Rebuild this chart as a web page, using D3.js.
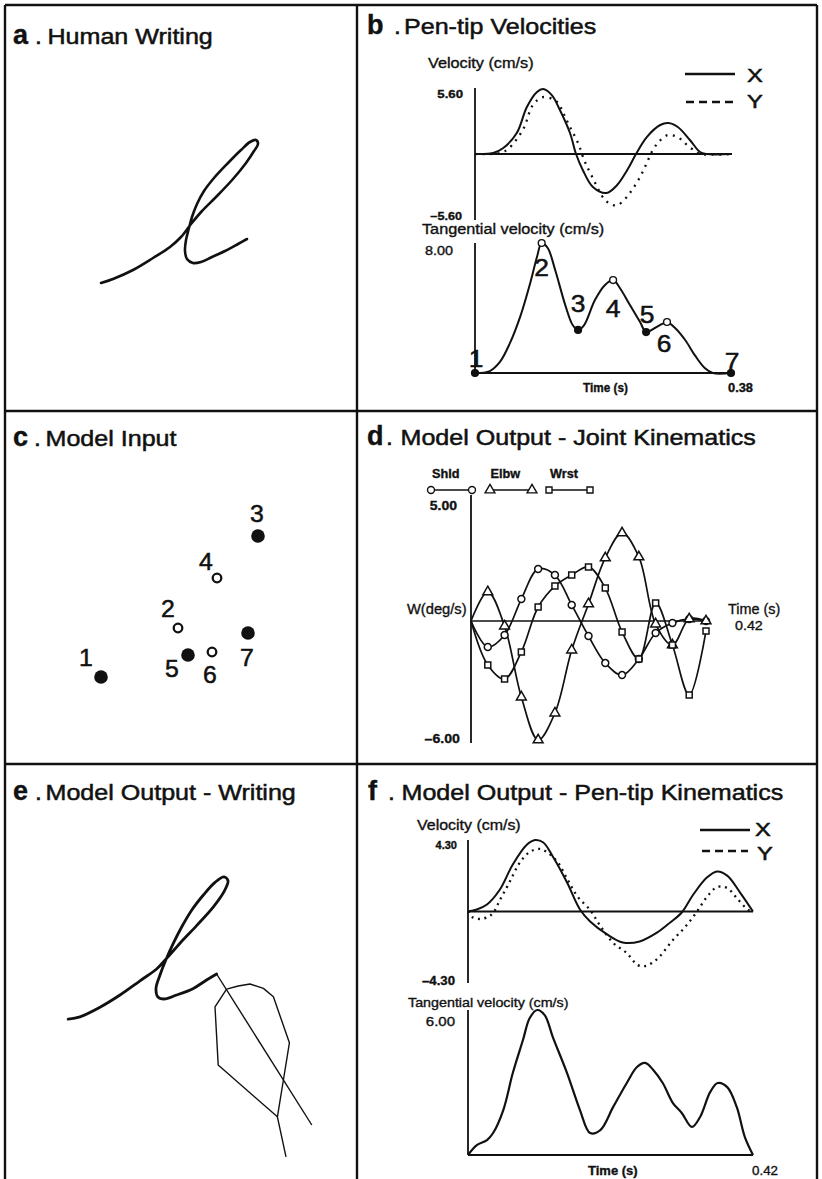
<!DOCTYPE html>
<html>
<head>
<meta charset="utf-8">
<script src="https://cdn.jsdelivr.net/npm/d3@7"></script>
<style>
  body { margin: 0; background: #fff; }
  svg { display: block; }
  text { font-family: "Liberation Sans", Arial, Helvetica, sans-serif; }
</style>
</head>
<body>
<svg id="fig" width="822" height="1179"></svg>
<script>
// ---------------- data ----------------
// Panel a: recorded pen trajectory (cm)
const humanStroke = [
  [0.025,0.425],[0.325,0.525],[0.825,0.75],[1.325,1.05],[1.75,1.325],[2.025,1.575],
  [2.275,1.9],[2.55,2.225],[2.925,2.6],[3.325,3.025],[3.65,3.425],[3.85,3.725],
  [3.95,3.9],[3.9,4.0],[3.75,3.95],[3.525,3.75],[3.2,3.425],[2.85,3.05],[2.6,2.725],
  [2.425,2.4],[2.3,2.075],[2.225,1.8],[2.15,1.5],[2.125,1.225],[2.175,1.025],
  [2.325,0.925],[2.525,0.95],[2.8,1.075],[3.125,1.225],[3.45,1.4],[3.675,1.525]
];

// Panel b: pen-tip velocities, [time s, velocity cm/s]
const bVelX = [
  [0,0],[0.027,0.09],[0.042,0.51],[0.062,1.78],[0.077,3.99],[0.092,5.26],[0.101,5.51],
  [0.114,5.00],[0.126,3.73],[0.141,1.78],[0.150,0],[0.160,-1.36],[0.175,-2.80],
  [0.195,-3.31],[0.211,-2.63],[0.226,-1.36],[0.239,0],[0.255,1.44],[0.275,2.46],
  [0.287,2.63],[0.301,2.29],[0.319,1.19],[0.334,0.17],[0.344,0],[0.38,0]
];
const bVelY = [
  [0,0],[0.037,0.08],[0.049,0.42],[0.071,2.04],[0.086,4.16],[0.101,4.83],[0.122,4.41],
  [0.131,3.48],[0.141,2.29],[0.153,0.93],[0.162,-0.51],[0.174,-1.95],[0.193,-3.90],
  [0.205,-4.33],[0.212,-4.33],[0.224,-3.73],[0.234,-2.97],[0.245,-1.95],[0.255,-0.76],
  [0.264,0.34],[0.274,1.10],[0.286,1.61],[0.297,1.53],[0.307,1.19],[0.316,0.68],
  [0.327,0.25],[0.334,0],[0.38,0]
];
const bTang = [
  [0,0],[0.022,0.12],[0.037,0.68],[0.052,1.85],[0.067,3.45],[0.082,5.54],[0.092,7.14],
  [0.099,8.00],[0.108,7.69],[0.119,6.34],[0.134,4.18],[0.145,2.95],[0.153,2.65],
  [0.162,2.95],[0.178,4.49],[0.193,5.42],[0.205,5.72],[0.215,5.23],[0.230,4.18],
  [0.245,3.14],[0.254,2.52],[0.267,2.77],[0.278,3.02],[0.285,3.14],[0.297,2.77],
  [0.312,2.03],[0.327,1.05],[0.341,0.31],[0.353,0],[0.38,0]
];
// segmentation points on the tangential velocity profile
const segNames  = ["1","2","3","4","5","6","7"];
const segTimes  = [0, 0.099, 0.153, 0.205, 0.254, 0.285, 0.38];
const segValues = [0, 8.00, 2.65, 5.72, 2.52, 3.14, 0];
const segFilled = [true, false, true, false, true, false, true];

// Panel c: model input targets (cm)
const targetX = [0.025, 1.95, 3.95, 2.925, 2.2, 2.8, 3.7];
const targetY = [0.4, 1.625, 3.925, 2.875, 0.95, 1.025, 1.5];

// Panel d: joint angular velocities (deg/s)
const dTimes = [0,0.03,0.06,0.09,0.12,0.15,0.18,0.21,0.24,0.27,0.30,0.33,0.36,0.39,0.42];
const dShld  = [0,-1.28,-0.69,1.08,2.56,2.26,0.79,-0.74,-2.07,-2.66,-1.87,-0.59,-0.10,0.10,0];
const dElbw  = [0,1.43,-0.25,-3.74,-5.85,-4.53,-1.43,0.84,3.10,4.33,3.15,-0.15,-1.18,0.10,0];
const dWrst  = [0,-2.16,-2.85,-1.52,0.69,1.72,2.26,2.66,1.62,-0.54,-1.87,0.89,-1.18,-3.64,-0.49];
const jointNames = ["Shld","Elbw","Wrst"];

// Panel e: model output trajectory (cm)
const modelStroke = [
  [-0.02,0.42],[0.275,0.48],[0.775,0.72],[1.275,1.025],[1.775,1.38],[2.19,1.675],
  [2.44,1.94],[2.775,2.32],[3.19,2.76],[3.61,3.23],[3.875,3.61],[3.975,3.88],
  [3.875,3.98],[3.65,3.84],[3.36,3.525],[3.07,3.15],[2.82,2.73],[2.61,2.32],
  [2.42,1.9],[2.275,1.525],[2.175,1.19],[2.22,0.98],[2.375,0.925],[2.69,1.025],
  [3.11,1.19],[3.44,1.4],[3.69,1.55]
];
const modelTailA = [[3.69,1.55],[6.07,-2.225]];
const modelTailB = [[3.94,1.17],[4.23,1.25],[4.525,1.3],[4.86,1.19],[5.11,0.98],
  [5.51,-0.17],[5.36,-1.1],[5.21,-2.02],[5.425,-3.02]];
const modelTailC = [[3.94,1.17],[3.65,0.73],[3.73,-0.725],[5.21,-2.02]];

// Panel f: model pen-tip kinematics, [time s, velocity cm/s]
const fVelX = [
  [0,0],[0.013,0.12],[0.028,0.42],[0.047,1.32],[0.066,2.83],[0.087,4.03],[0.099,4.30],
  [0.111,4.15],[0.125,3.31],[0.146,1.74],[0.165,0.12],[0.180,-0.60],[0.205,-1.38],
  [0.228,-1.86],[0.253,-1.80],[0.279,-1.26],[0.298,-0.66],[0.315,-0.06],[0.332,1.02],
  [0.352,2.04],[0.367,2.41],[0.382,2.16],[0.401,1.14],[0.42,0]
];
const fVelY = [
  [0,0],[0.006,-0.33],[0.018,-0.45],[0.029,-0.33],[0.037,-0.09],[0.047,0.69],[0.059,1.59],
  [0.077,2.98],[0.091,3.58],[0.106,3.76],[0.118,3.52],[0.133,2.92],[0.147,1.89],
  [0.162,0.87],[0.180,0.09],[0.194,-0.81],[0.214,-1.89],[0.234,-2.50],[0.250,-3.22],
  [0.261,-3.28],[0.271,-3.10],[0.283,-2.68],[0.302,-1.71],[0.320,-0.93],[0.337,-0.03],
  [0.352,0.87],[0.367,1.47],[0.382,1.41],[0.396,0.81],[0.413,0.09],[0.42,0]
];
const fTang = [
  [0,0],[0.013,0.41],[0.028,0.62],[0.037,0.91],[0.052,1.86],[0.066,3.39],[0.081,4.76],
  [0.091,5.67],[0.102,6.00],[0.113,5.79],[0.125,4.88],[0.146,3.39],[0.165,1.86],
  [0.180,0.91],[0.195,1.03],[0.214,1.99],[0.234,2.98],[0.249,3.64],[0.261,3.81],
  [0.273,3.52],[0.287,2.98],[0.302,2.15],[0.315,1.74],[0.330,1.16],[0.342,1.57],
  [0.357,2.61],[0.368,2.98],[0.382,2.81],[0.396,1.99],[0.408,0.74],[0.42,0]
];

// ---------------- drawing ----------------
const svg = d3.select("#fig");
svg.append("rect").attr("width", 822).attr("height", 1179).attr("fill", "#fff");
const INK = "#111";

// text with a horizontal stretch and a hairline outline for a heavier print look
function txt(g, x, y, s, o = {}) {
  return g.append("text")
    .attr("transform", `translate(${x},${y}) scale(${o.sx ?? 1},1)`)
    .attr("text-anchor", o.anchor || "start")
    .attr("font-size", o.size || 14)
    .attr("font-weight", o.weight || "normal")
    .attr("fill", INK)
    .attr("stroke", INK).attr("stroke-width", o.sw ?? 0.35)
    .text(s);
}
function seg(g, x1, y1, x2, y2, w = 1.8) {
  g.append("line").attr("x1", x1).attr("y1", y1).attr("x2", x2).attr("y2", y2)
    .attr("stroke", INK).attr("stroke-width", w);
}

// panel frame
const frame = svg.append("g");
[[5,5,817,5],[5,5,5,1179],[817,5,817,1179],[357,5,357,1179],[5,411,817,411],[5,764,817,764]]
  .forEach(d => seg(frame, d[0], d[1], d[2], d[3], 2.4));

// panel titles
const panelLetters = ["a","b","c","d","e","f"];
const panelNames = ["Human Writing","Pen-tip Velocities","Model Input",
  "Model Output - Joint Kinematics","Model Output - Writing","Model Output - Pen-tip Kinematics"];
const titlePos = [
  {x:13, dot:35, t:47.5, y:44}, {x:367, dot:394, t:404, y:34},
  {x:13, dot:34, t:45.5, y:446}, {x:367, dot:386, t:400.5, y:445},
  {x:13, dot:35, t:45.5, y:800}, {x:368, dot:388, t:401.5, y:800}
];
const titles = svg.append("g");
panelLetters.forEach((L, i) => {
  const p = titlePos[i];
  txt(titles, p.x, p.y, L, {size: 27, weight: "bold", sw: 0.4});
  txt(titles, p.dot, p.y, ".", {size: 22, sx: 1.12, sw: 0.5});
  txt(titles, p.t, p.y, panelNames[i], {size: 22, sx: 1.14, sw: 0.5});
});

const smooth = d3.curveCatmullRom.alpha(0.5);

// ---- panel a: human writing ----
const ax = d3.scaleLinear([0, 1], [100, 140]);
const ay = d3.scaleLinear([0, 1], [300, 260]);
svg.append("path")
  .attr("d", d3.line().x(d => ax(d[0])).y(d => ay(d[1])).curve(smooth)(humanStroke))
  .attr("fill", "none").attr("stroke", INK).attr("stroke-width", 2.6)
  .attr("stroke-linecap", "round").attr("stroke-linejoin", "round");

// ---- panel b: pen-tip velocities ----
const gb = svg.append("g");
const xB = d3.scaleLinear([0, 0.38], [475, 731]);
const yBv = d3.scaleLinear([-5.6, 5.6], [220, 88]);
const yBt = d3.scaleLinear([0, 8], [373, 243]);
seg(gb, xB(0), yBv(5.6), xB(0), yBv(-5.6), 1.8);
seg(gb, xB(0), yBv(0), xB(0.38) + 1, yBv(0), 1.8);
seg(gb, xB(0), yBt(8), xB(0), yBt(0), 1.8);
seg(gb, xB(0), yBt(0), xB(0.38), yBt(0), 1.8);

const lineBv = d3.line().x(d => xB(d[0])).y(d => yBv(d[1])).curve(smooth);
gb.append("path").attr("d", lineBv(bVelX)).attr("fill", "none")
  .attr("stroke", INK).attr("stroke-width", 2);
gb.append("path").attr("d", lineBv(bVelY)).attr("fill", "none")
  .attr("stroke", INK).attr("stroke-width", 2.3).attr("stroke-dasharray", "2,5.5");
gb.append("path")
  .attr("d", d3.line().x(d => xB(d[0])).y(d => yBt(d[1])).curve(smooth)(bTang))
  .attr("fill", "none").attr("stroke", INK).attr("stroke-width", 2);

const segLabelOffset = [[1,-6],[0,33],[0,-18],[0,37],[1,-9],[-3,30],[1,-3]];
segTimes.forEach((t, i) => {
  gb.append("circle").attr("cx", xB(t)).attr("cy", yBt(segValues[i])).attr("r", 3.4)
    .attr("fill", segFilled[i] ? INK : "#fff").attr("stroke", INK).attr("stroke-width", 1.4);
  txt(gb, xB(t) + segLabelOffset[i][0], yBt(segValues[i]) + segLabelOffset[i][1], segNames[i],
      {size: 24, anchor: "middle", sx: 1.1, sw: 0.5});
});

txt(gb, 428, 68, "Velocity (cm/s)", {size: 14, sx: 1.16});
txt(gb, 463, 98, "5.60", {size: 11.5, weight: "bold", anchor: "end", sx: 1.15});
txt(gb, 462, 220, "\u20135.60", {size: 11.5, weight: "bold", anchor: "end", sx: 1.1});
txt(gb, 422, 234, "Tangential velocity (cm/s)", {size: 14, sx: 1.16});
txt(gb, 453, 255, "8.00", {size: 12, anchor: "end", sx: 1.2});
txt(gb, 583, 392, "Time (s)", {size: 12, weight: "bold", sx: 0.98});
txt(gb, 728, 392, "0.38", {size: 12, weight: "bold", sx: 1.07});
// legend
seg(gb, 685, 74, 735, 74, 2.6);
gb.append("line").attr("x1", 686).attr("y1", 102).attr("x2", 733).attr("y2", 102)
  .attr("stroke", INK).attr("stroke-width", 2.6).attr("stroke-dasharray", "8,5");
txt(gb, 747, 82, "X", {size: 19, sx: 1.25, sw: 0.5});
txt(gb, 747, 108, "Y", {size: 19, sx: 1.25, sw: 0.5});

// ---- panel c: model input ----
const gc = svg.append("g");
const cx = d3.scaleLinear([0, 1], [100, 140]);
const cy = d3.scaleLinear([0, 1], [693, 653]);
const targetLabelOffset = [[-15,-11],[-10,-11],[-1,-14],[-11,-8],[-16,22],[-2,31],[-1,33]];
targetX.forEach((tx, i) => {
  const filled = segFilled[i];
  gc.append("circle").attr("cx", cx(tx)).attr("cy", cy(targetY[i]))
    .attr("r", filled ? 6.8 : 4.3)
    .attr("fill", filled ? INK : "#fff").attr("stroke", INK).attr("stroke-width", filled ? 0 : 2.3);
  txt(gc, cx(tx) + targetLabelOffset[i][0], cy(targetY[i]) + targetLabelOffset[i][1], segNames[i],
      {size: 23, anchor: "middle", sx: 1.08, sw: 0.5});
});

// ---- panel d: joint kinematics ----
const gd = svg.append("g");
const xD = d3.scaleLinear([0, 0.42], [471, 706]);
const yD = d3.scaleLinear([-6, 0], [743, 621]);
seg(gd, xD(0), yD(6.2), xD(0), yD(-6), 1.8);
seg(gd, xD(0), yD(0), xD(0.42) + 4, yD(0), 1.6);
const jointSeries = [dShld, dElbw, dWrst];
const jointSymbols = [d3.symbolCircle, d3.symbolTriangle, d3.symbolSquare];
const jointSizes = [38, 42, 36];
const lineD = d3.line().x((d, i) => xD(dTimes[i])).y(d => yD(d)).curve(smooth);
jointSeries.forEach(s => {
  gd.append("path").attr("d", lineD(s)).attr("fill", "none")
    .attr("stroke", INK).attr("stroke-width", 1.7);
});
jointSeries.forEach((s, k) => {
  const sym = d3.symbol(jointSymbols[k], jointSizes[k]);
  s.forEach((v, i) => {
    if (i === 0) return;
    gd.append("path").attr("d", sym())
      .attr("transform", `translate(${xD(dTimes[i])},${yD(v)})`)
      .attr("fill", "#fff").attr("stroke", INK).attr("stroke-width", 1.5);
  });
});
// legend
const legendX = [[431, 472], [490, 532], [549, 590]];
const legendTextX = [432, 490.5, 550];
jointNames.forEach((n, k) => {
  txt(gd, legendTextX[k], 478, n, {size: 12, weight: "bold", sx: 1.06});
  seg(gd, legendX[k][0], 490, legendX[k][1], 490, 1.4);
  const sym = d3.symbol(jointSymbols[k], jointSizes[k]);
  legendX[k].forEach(x => gd.append("path").attr("d", sym())
    .attr("transform", `translate(${x},490)`)
    .attr("fill", "#fff").attr("stroke", INK).attr("stroke-width", 1.4));
});
txt(gd, 457, 510, "5.00", {size: 12.5, weight: "bold", anchor: "end", sx: 1.12});
txt(gd, 460, 743, "\u20136.00", {size: 13.5, weight: "bold", anchor: "end", sx: 1.05});
txt(gd, 407, 614, "W(deg/s)", {size: 15, sx: 0.98});
txt(gd, 728, 614, "Time (s)", {size: 15, sx: 0.96});
txt(gd, 735, 630, "0.42", {size: 13, sx: 1.1});

// ---- panel e: model output writing ----
const ge = svg.append("g");
const ex = d3.scaleLinear([0, 1], [69, 109]);
const ey = d3.scaleLinear([0, 1], [1036, 996]);
ge.append("path")
  .attr("d", d3.line().x(d => ex(d[0])).y(d => ey(d[1])).curve(smooth)(modelStroke))
  .attr("fill", "none").attr("stroke", INK).attr("stroke-width", 2.8)
  .attr("stroke-linecap", "round").attr("stroke-linejoin", "round");
const lineE = d3.line().x(d => ex(d[0])).y(d => ey(d[1]));
[modelTailA, modelTailB, modelTailC].forEach(p => {
  ge.append("path").attr("d", lineE(p)).attr("fill", "none")
    .attr("stroke", INK).attr("stroke-width", 1.4).attr("stroke-linejoin", "round");
});

// ---- panel f: model pen-tip kinematics ----
const gf = svg.append("g");
const xF = d3.scaleLinear([0, 0.42], [468, 753]);
const yFv = d3.scaleLinear([-4.3, 4.3], [983, 840]);
const yFt = d3.scaleLinear([0, 6], [1155, 1010]);
seg(gf, xF(0), yFv(4.3), xF(0), yFv(-4.3), 1.8);
seg(gf, xF(0), yFv(0), xF(0.42), yFv(0), 1.8);
seg(gf, xF(0), yFt(6), xF(0), yFt(0), 1.8);
seg(gf, xF(0), yFt(0), xF(0.42), yFt(0), 1.8);
const lineFv = d3.line().x(d => xF(d[0])).y(d => yFv(d[1])).curve(smooth);
gf.append("path").attr("d", lineFv(fVelX)).attr("fill", "none")
  .attr("stroke", INK).attr("stroke-width", 2);
gf.append("path").attr("d", lineFv(fVelY)).attr("fill", "none")
  .attr("stroke", INK).attr("stroke-width", 2.3).attr("stroke-dasharray", "2,4.5");
gf.append("path")
  .attr("d", d3.line().x(d => xF(d[0])).y(d => yFt(d[1])).curve(smooth)(fTang))
  .attr("fill", "none").attr("stroke", INK).attr("stroke-width", 2.2);

txt(gf, 417, 830, "Velocity (cm/s)", {size: 14, sx: 1.14});
txt(gf, 457, 849, "4.30", {size: 10.5, weight: "bold", anchor: "end", sx: 1.05});
txt(gf, 455, 985, "\u20134.30", {size: 12, weight: "bold", anchor: "end", sx: 1.1});
txt(gf, 408, 1007, "Tangential velocity (cm/s)", {size: 13, sx: 1.1});
txt(gf, 455, 1026, "6.00", {size: 12.5, anchor: "end", sx: 1.2});
txt(gf, 588, 1175, "Time (s)", {size: 13, weight: "bold", sx: 1.0});
txt(gf, 752, 1175, "0.42", {size: 12.5, sx: 1.07});
seg(gf, 700, 830, 750, 830, 2.6);
gf.append("line").attr("x1", 702).attr("y1", 851).attr("x2", 748).attr("y2", 851)
  .attr("stroke", INK).attr("stroke-width", 2.6).attr("stroke-dasharray", "8,5");
txt(gf, 755, 836, "X", {size: 19, sx: 1.25, sw: 0.5});
txt(gf, 757, 860, "Y", {size: 19, sx: 1.25, sw: 0.5});
</script>
</body>
</html>
